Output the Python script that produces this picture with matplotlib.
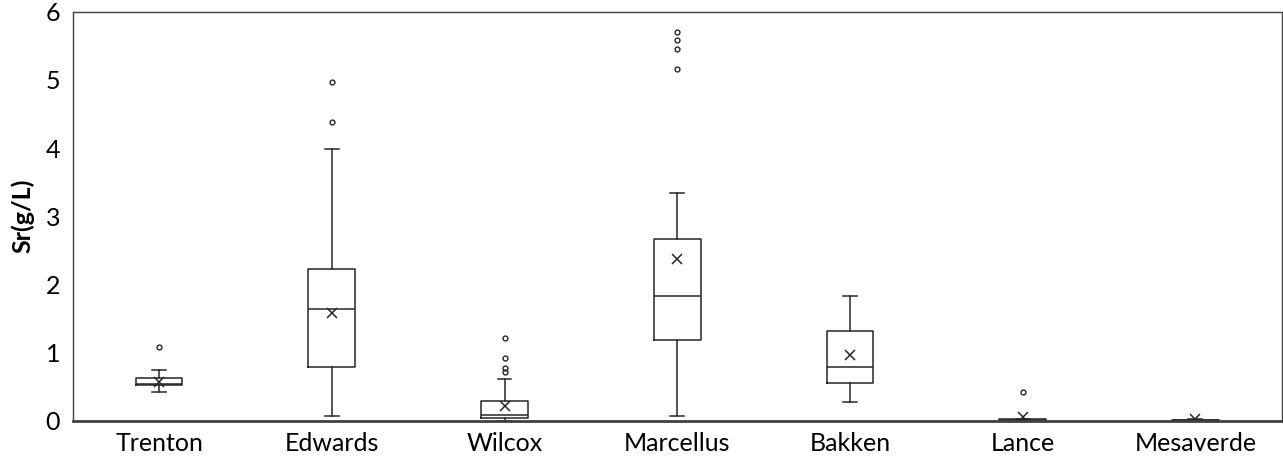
import matplotlib
matplotlib.use("Agg")
import matplotlib.pyplot as plt

# formations and Sr box statistics (g/L)
formations = ["Trenton", "Edwards", "Wilcox", "Marcellus", "Bakken", "Lance", "Mesaverde"]
whisker_low = [0.42, 0.07, 0.0, 0.07, 0.28, 0.0, 0.0]
q1 = [0.52, 0.79, 0.035, 1.18, 0.56, 0.0, 0.0]
median = [0.54, 1.64, 0.08, 1.83, 0.79, 0.01, 0.005]
q3 = [0.63, 2.23, 0.29, 2.66, 1.32, 0.02, 0.015]
whisker_high = [0.75, 3.99, 0.61, 3.34, 1.83, 0.03, 0.02]
mean = [0.57, 1.58, 0.21, 2.37, 0.96, 0.05, 0.03]
outliers = [
    [1.08],
    [4.38, 4.97],
    [0.71, 0.78, 0.92, 1.21],
    [5.16, 5.45, 5.58, 5.70],
    [],
    [0.42],
    [],
]

stats = []
for i in range(len(formations)):
    stats.append({
        "label": formations[i],
        "whislo": whisker_low[i],
        "q1": q1[i],
        "med": median[i],
        "q3": q3[i],
        "whishi": whisker_high[i],
        "mean": mean[i],
        "fliers": outliers[i],
    })

plt.rcParams["font.family"] = ["Lato", "DejaVu Sans"]

fig = plt.figure(figsize=(12.83, 4.59), dpi=100)
ax = fig.add_axes([0.0567, 0.0834, 0.9423, 0.8911])

line_col = "#262626"
ax.bxp(stats, widths=0.27, capwidths=0.08, showmeans=True,
       boxprops=dict(color=line_col, linewidth=1.1),
       whiskerprops=dict(color=line_col, linewidth=1.1),
       capprops=dict(color=line_col, linewidth=1.1),
       medianprops=dict(color=line_col, linewidth=1.1),
       meanprops=dict(marker="x", markeredgecolor=line_col, markersize=7,
                      markeredgewidth=1.1),
       flierprops=dict(marker="o", markerfacecolor="none",
                       markeredgecolor=line_col, markersize=3.5,
                       markeredgewidth=1.0))

ax.set_xlim(0.5, 7.5)
ax.set_ylim(0, 6)
ax.set_yticks([0, 1, 2, 3, 4, 5, 6])
ax.tick_params(axis="both", length=0, labelsize=18, colors="black")
ax.tick_params(axis="y", pad=9)
ax.tick_params(axis="x", pad=8)
ax.set_ylabel("Sr(g/L)", fontsize=18, fontweight="bold", labelpad=8)

for side in ["left", "right", "top"]:
    ax.spines[side].set_color("#404040")
    ax.spines[side].set_linewidth(1.0)
ax.spines["bottom"].set_color("#404040")
ax.spines["bottom"].set_linewidth(2.0)

fig.savefig("out.png", dpi=100)
